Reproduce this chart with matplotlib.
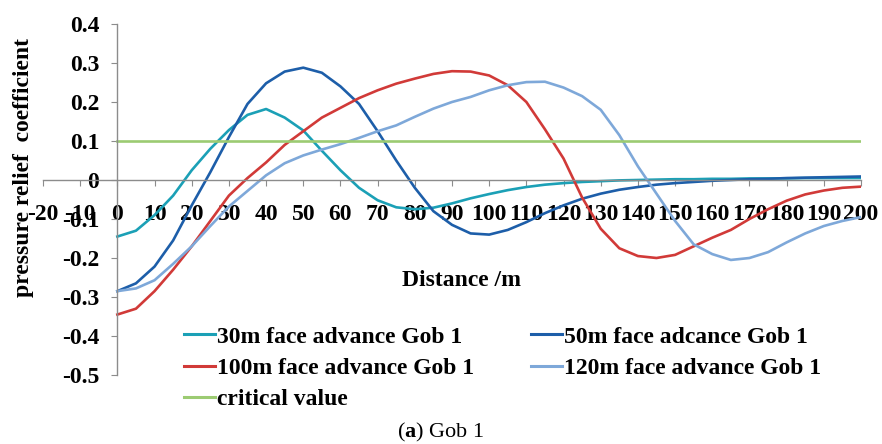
import matplotlib
matplotlib.use("Agg")
import matplotlib.pyplot as plt
import numpy as np

plt.rcParams['font.family'] = ['Liberation Serif', 'DejaVu Serif']
plt.rcParams['font.weight'] = 'bold'
plt.rcParams['mathtext.fontset'] = 'custom'
plt.rcParams['mathtext.rm'] = 'Liberation Serif'
plt.rcParams['mathtext.bf'] = 'Liberation Serif:bold'

# distance along the gob (m)
dist = [0, 5, 10, 15, 20, 25, 30, 35, 40, 45, 50, 55, 60, 65, 70, 75, 80, 85, 90, 95,
        100, 105, 110, 115, 120, 125, 130, 135, 140, 145, 150, 155, 160, 165, 170, 175,
        180, 185, 190, 195, 200]

adv30 = [-0.145, -0.13, -0.09, -0.04, 0.025, 0.08, 0.128, 0.167, 0.182, 0.16, 0.127,
         0.075, 0.025, -0.02, -0.052, -0.07, -0.075, -0.071, -0.06, -0.047,
         -0.036, -0.026, -0.018, -0.012, -0.008, -0.005, -0.003, -0.001, 0.0, 0.001,
         0.002, 0.002, 0.003, 0.003, 0.004, 0.004, 0.004, 0.005, 0.005, 0.005, 0.005]

adv50 = [-0.285, -0.265, -0.222, -0.155, -0.065, 0.02, 0.11, 0.195, 0.248, 0.278,
         0.288, 0.275, 0.24, 0.195, 0.125, 0.05, -0.02, -0.08, -0.115, -0.137,
         -0.14, -0.128, -0.108, -0.085, -0.065, -0.048, -0.035, -0.025, -0.018, -0.012,
         -0.008, -0.005, -0.002, 0.0, 0.002, 0.003, 0.005, 0.006, 0.007, 0.008, 0.009]

adv100 = [-0.345, -0.33, -0.285, -0.23, -0.17, -0.105, -0.04, 0.005, 0.045, 0.09,
          0.125, 0.16, 0.185, 0.21, 0.23, 0.247, 0.26, 0.272, 0.279, 0.278,
          0.268, 0.243, 0.2, 0.13, 0.055, -0.045, -0.125, -0.175, -0.195, -0.2,
          -0.192, -0.17, -0.148, -0.128, -0.1, -0.075, -0.053, -0.037, -0.027, -0.02, -0.017]

adv120 = [-0.285, -0.278, -0.257, -0.215, -0.17, -0.118, -0.068, -0.028, 0.012, 0.043,
          0.063, 0.078, 0.092, 0.108, 0.125, 0.14, 0.162, 0.183, 0.2, 0.213,
          0.23, 0.243, 0.251, 0.252, 0.237, 0.215, 0.18, 0.115, 0.035, -0.035,
          -0.105, -0.165, -0.19, -0.205, -0.2, -0.185, -0.16, -0.137, -0.118, -0.105, -0.095]

critical = 0.1

labels = ['30m face advance Gob 1', '50m face adcance Gob 1',
          '100m face advance Gob 1', '120m face advance Gob 1', 'critical value']

xticks = list(range(-20, 201, 10))
yticks = [0.4, 0.3, 0.2, 0.1, 0, -0.1, -0.2, -0.3, -0.4, -0.5]
ytick_labels = ['0.4', '0.3', '0.2', '0.1', '0', '-0.1', '-0.2', '-0.3', '-0.4', '-0.5']

fig = plt.figure(figsize=(8.82, 4.44), dpi=100)
ax = fig.add_axes([43/882, 1-375/444, 818/882, 351/444])

lw = 1.9
l1, = ax.plot(dist, adv30, color='#1ba0b6', lw=lw)
l2, = ax.plot(dist, adv50, color='#1d5ea9', lw=lw)
l3, = ax.plot(dist, adv100, color='#d13a38', lw=lw)
l4, = ax.plot(dist, adv120, color='#7ea8d9', lw=lw)
l5, = ax.plot([dist[0], dist[-1]], [critical, critical], color='#9ccb72', lw=lw)

ax.set_xlim(-20, 200)
ax.set_ylim(-0.5, 0.4)
for s in ['top', 'right']:
    ax.spines[s].set_visible(False)
ax.spines['left'].set_position(('data', 0))
ax.spines['bottom'].set_position(('data', 0))
for s in ['left', 'bottom']:
    ax.spines[s].set_color('#8c8c8c')
    ax.spines[s].set_linewidth(1.0)

fs = 17
ax.set_xticks(xticks)
ax.set_xticklabels([str(v) for v in xticks])
ax.set_yticks(yticks)
ax.set_yticklabels(ytick_labels)
ax.tick_params(axis='x', direction='out', length=4, color='#8c8c8c', pad=13, labelsize=fs)
ax.tick_params(axis='y', direction='out', length=4, color='#8c8c8c', pad=9, labelsize=fs)

fig.text(462/882, 1-281/444, 'Distance /m', ha='center', va='center', fontsize=fs, fontweight='bold')
fig.text(24/882, 1-167/444, 'pressure relief  coefficient', ha='center', va='center',
         rotation=90, fontsize=fs, fontweight='bold')

# row-wise order as in the reference legend
handles = [l1, l3, l5, l2, l4]
order = [0, 2, 4, 1, 3]
leg = fig.legend(handles, [labels[i] for i in order], ncol=2, loc='upper left',
                 bbox_to_anchor=(184/882, 1-326/444), frameon=False, fontsize=fs,
                 handlelength=1.3, handletextpad=0.1, columnspacing=2.4,
                 labelspacing=0.42, borderpad=0, borderaxespad=0)
for line in leg.get_lines():
    line.set_linewidth(2.2)

fig.text(441/882, 1-432/444, r'($\mathbf{a}$) Gob 1', ha='center', va='center',
         fontsize=16, fontweight='normal')

fig.savefig('out.png', dpi=100)
